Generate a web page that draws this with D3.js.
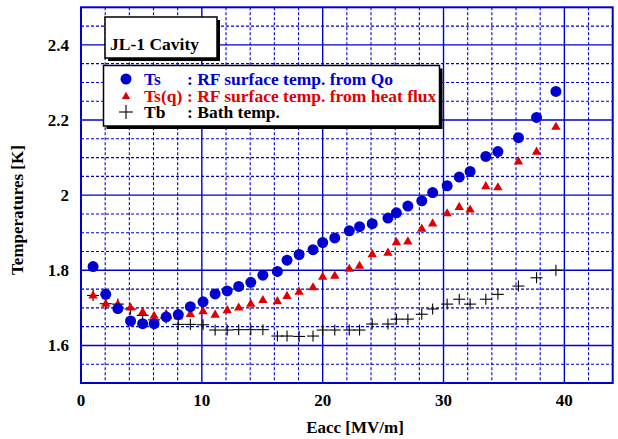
<!DOCTYPE html>
<html><head><meta charset="utf-8">
<script src="https://cdn.jsdelivr.net/npm/d3@7"></script>
<style>body{margin:0;background:#fff}svg{display:block}</style>
</head><body>
<script>
const eacc = [1.0,2.05,3.05,4.1,5.1,6.05,7.05,8.05,9.05,10.1,11.1,12.1,13.05,14.05,15.05,16.25,17.05,18.05,19.2,20.0,21.0,22.2,23.05,24.1,25.4,26.1,27.05,28.2,29.1,30.3,31.3,32.2,33.5,34.5,36.2,37.7,39.3];
const tsQo = [1.81,1.736,1.698,1.665,1.658,1.658,1.676,1.682,1.703,1.716,1.737,1.745,1.757,1.768,1.787,1.797,1.827,1.842,1.855,1.874,1.886,1.905,1.916,1.924,1.939,1.953,1.971,1.985,2.007,2.025,2.048,2.063,2.103,2.116,2.153,2.207,2.276];
const tsHeat = [1.732,1.71,1.709,1.70,1.688,1.678,1.683,1.676,1.683,1.69,1.681,1.693,1.70,1.71,1.72,1.717,1.731,1.742,1.754,1.782,1.785,1.803,1.811,1.842,1.846,1.874,1.876,1.91,1.924,1.951,1.968,1.961,2.023,2.02,2.089,2.115,2.181];
const tBath = [1.733,1.711,1.71,1.697,1.68,1.668,1.673,1.656,1.656,1.655,1.641,1.641,1.642,1.642,1.642,1.625,1.625,1.624,1.625,1.641,1.641,1.641,1.641,1.657,1.657,1.67,1.67,1.683,1.697,1.71,1.723,1.71,1.723,1.736,1.758,1.78,1.80];
const xTicks = [0,10,20,30,40];
const yTicks = [1.6,1.8,2.0,2.2,2.4];
const legendLabels = [
  {name:"Ts", desc:": RF surface temp. from Qo", color:"#0000d0", sym:"circle"},
  {name:"Ts(q)", desc:": RF surface temp. from heat flux", color:"#e00000", sym:"triangle"},
  {name:"Tb", desc:": Bath temp.", color:"#000000", sym:"plus"}
];
const title = "JL-1 Cavity";

const W=618,H=439;
const L=81,R=612.7,T=7.3,B=383;
const svg=d3.select("body").append("svg").attr("width",W).attr("height",H)
  .attr("font-family","'Liberation Serif','Times New Roman',Times,serif").attr("font-weight","bold");
const x=d3.scaleLinear().domain([0,44]).range([L,R]);
const y=d3.scaleLinear().domain([1.5,2.5]).range([B,T]);
const blue="#0000d0";

// grid
const g=svg.append("g");
const minorX=d3.range(2,44,2).filter(v=>v%10!==0);
const minorY=d3.range(1.55,2.5,0.05).map(v=>+v.toFixed(2)).filter(v=>!yTicks.some(t=>Math.abs(t-v)<1e-6));
g.selectAll(".mx").data(minorX).join("line").attr("x1",d=>x(d)).attr("x2",d=>x(d)).attr("y1",T).attr("y2",B)
 .attr("stroke",blue).attr("stroke-width",1.1).attr("stroke-dasharray","3,2");
g.selectAll(".my").data(minorY).join("line").attr("y1",d=>y(d)).attr("y2",d=>y(d)).attr("x1",L).attr("x2",R)
 .attr("stroke",blue).attr("stroke-width",1.1).attr("stroke-dasharray","3,2");
g.selectAll(".Mx").data(xTicks.filter(v=>v>0)).join("line").attr("x1",d=>x(d)).attr("x2",d=>x(d)).attr("y1",T).attr("y2",B)
 .attr("stroke",blue).attr("stroke-width",1.4);
g.selectAll(".My").data(yTicks).join("line").attr("y1",d=>y(d)).attr("y2",d=>y(d)).attr("x1",L).attr("x2",R)
 .attr("stroke",blue).attr("stroke-width",1.4);
svg.append("rect").attr("x",L).attr("y",T).attr("width",R-L).attr("height",B-T).attr("fill","none").attr("stroke",blue).attr("stroke-width",2);

// axes labels
svg.selectAll(".xt").data(xTicks).join("text").attr("x",d=>x(d)).attr("y",406).attr("text-anchor","middle")
 .attr("font-size",17).text(d=>d);
svg.selectAll(".yt").data(yTicks).join("text").attr("x",69).attr("y",d=>y(d)+6).attr("text-anchor","end")
 .attr("font-size",17).text(d=>d3.format("")(d));
svg.append("text").attr("x",355).attr("y",433).attr("text-anchor","middle").attr("font-size",17).text("Eacc [MV/m]");
svg.append("text").attr("transform","translate(23,210) rotate(-90)").attr("text-anchor","middle").attr("font-size",17).text("Temperatures [K]");

// data
const data=eacc.map((e,i)=>({e,a:tsQo[i],b:tsHeat[i],c:tBath[i]}));
const tri=d3.symbol().type(d3.symbolTriangle).size(38);
const pl=svg.append("g");
data.forEach(d=>{
  const cx=x(d.e), cy=y(d.c);
  pl.append("line").attr("x1",cx-6).attr("x2",cx+6).attr("y1",cy).attr("y2",cy).attr("stroke","#000").attr("stroke-width",1.1);
  pl.append("line").attr("x1",cx).attr("x2",cx).attr("y1",cy-5.5).attr("y2",cy+5.5).attr("stroke","#000").attr("stroke-width",1.1);
});
svg.append("g").selectAll("path").data(data).join("path").attr("d",tri)
 .attr("transform",d=>`translate(${x(d.e)},${y(d.b)})`).attr("fill","#e00000");
svg.append("g").selectAll("circle").data(data).join("circle").attr("cx",d=>x(d.e)).attr("cy",d=>y(d.a)).attr("r",5.5).attr("fill",blue);

// boxes
function box(x0,y0,w,h){
  svg.append("rect").attr("x",x0+3).attr("y",y0+3).attr("width",w).attr("height",h).attr("fill","#000");
  svg.append("rect").attr("x",x0).attr("y",y0).attr("width",w).attr("height",h).attr("fill","#fff").attr("stroke","#000").attr("stroke-width",1.5);
}
box(105,17,112,41);
svg.append("text").attr("x",110).attr("y",50).attr("font-size",17.5).text(title);

box(103.5,65.5,336,60.5);
legendLabels.forEach((l,i)=>{
  const cy=79+i*16.5;
  if(l.sym==="circle") svg.append("circle").attr("cx",126).attr("cy",cy).attr("r",5.5).attr("fill",l.color);
  else if(l.sym==="triangle") svg.append("path").attr("d",d3.symbol().type(d3.symbolTriangle).size(30)()).attr("transform",`translate(126,${cy+1})`).attr("fill",l.color);
  else {
    svg.append("line").attr("x1",119).attr("x2",133).attr("y1",cy).attr("y2",cy).attr("stroke","#000").attr("stroke-width",1.1);
    svg.append("line").attr("x1",126).attr("x2",126).attr("y1",cy-7).attr("y2",cy+7).attr("stroke","#000").attr("stroke-width",1.1);
  }
  svg.append("text").attr("x",144).attr("y",cy+6).attr("font-size",17.5).attr("fill",l.color).text(l.name);
  svg.append("text").attr("x",187).attr("y",cy+6).attr("font-size",17.5).attr("fill",l.color).text(l.desc);
});
</script>
</body></html>
